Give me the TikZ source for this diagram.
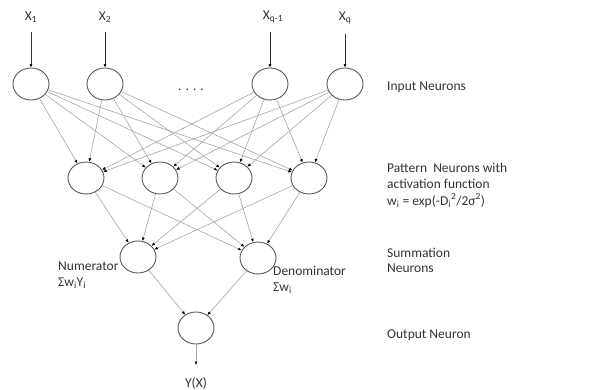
\documentclass[tikz,border=0pt]{standalone}
\usepackage{fontspec}
\setmainfont{Carlito}
\usetikzlibrary{shapes.geometric,arrows.meta}
\tikzset{
  neuron/.style={draw=black!65, line width=0.9pt, ellipse, minimum width=36pt, minimum height=32pt, inner sep=0pt},
  link/.style={draw=black!35, line width=0.6pt, -{Latex[length=3.5pt,width=3pt,color=black]}},
  inarrow/.style={draw=black!80, line width=0.6pt, -{Latex[length=3.5pt,width=3pt,color=black]}},
  lbl/.style={font=\fontsize{13.5}{15}\selectfont, text=black!80, inner sep=0pt},
  side/.style={font=\fontsize{13.5}{16.5}\selectfont, text=black!80, inner sep=0pt, anchor=west, align=left}
}
\begin{document}
\begin{tikzpicture}[x=1pt,y=-1pt]
\useasboundingbox (0,0) rectangle (616,390);
% input layer
\node[neuron] (i1) at (31,84) {};
\node[neuron] (i2) at (105,84) {};
\node[neuron] (i3) at (270,84) {};
\node[neuron] (i4) at (345,84) {};
\node[lbl] (dots) at (191,90) {. . . .};
\node[lbl] (x1) at (31,17) {X\textsubscript{1}};
\node[lbl] (x2) at (105,17) {X\textsubscript{2}};
\node[lbl] (x3) at (273,17) {X\textsubscript{q-1}};
\node[lbl] (x4) at (345,18) {X\textsubscript{q}};
\coordinate (a1) at (31,32);
\coordinate (a2) at (105,32);
\coordinate (a3) at (270,32);
\coordinate (a4) at (345,34);
\draw[inarrow] (a1) -- (i1.north);
\draw[inarrow] (a2) -- (i2.north);
\draw[inarrow] (a3) -- (i3.north);
\draw[inarrow] (a4) -- (i4.north);
% pattern layer
\node[neuron] (p1) at (86,178) {};
\node[neuron] (p2) at (160,178) {};
\node[neuron] (p3) at (234,178) {};
\node[neuron] (p4) at (309,178) {};
% summation
\node[neuron] (s1) at (138,257) {};
\node[neuron] (s2) at (258,258) {};
% output
\node[neuron] (o) at (196,328) {};
\coordinate (yend) at (196,365);
\node[lbl] (yx) at (196,383) {Y(X)};
% links input -> pattern
\foreach \i in {1,2,3,4}{
  \foreach \p in {1,2,3,4}{
    \draw[link] (i\i) -- (p\p);
  }
}
\foreach \p in {1,2,3,4}{
  \draw[link] (p\p) -- (s1);
  \draw[link] (p\p) -- (s2);
}
\draw[link] (s1) -- (o);
\draw[link] (s2) -- (o);
\draw[link] (o) -- (yend);
% labels
\node[lbl, anchor=west, align=left] (num) at (58,275) {Numerator\\[1pt]Σw\textsubscript{i}Y\textsubscript{i}};
\node[lbl, anchor=west, align=left] (den) at (273,280) {Denominator\\[1pt]Σw\textsubscript{i}};
\node[side] (t1) at (387,87) {Input Neurons};
\node[side] (t2) at (387,185) {Pattern\ \ Neurons with\\activation function\\w\textsubscript{i} = exp(-D\textsubscript{i}\textsuperscript{2}/2σ\textsuperscript{2})};
\node[side, font=\fontsize{13.5}{15}\selectfont] (t3) at (387,260) {Summation\\Neurons};
\node[side] (t4) at (387,335) {Output Neuron};
\end{tikzpicture}
\end{document}
